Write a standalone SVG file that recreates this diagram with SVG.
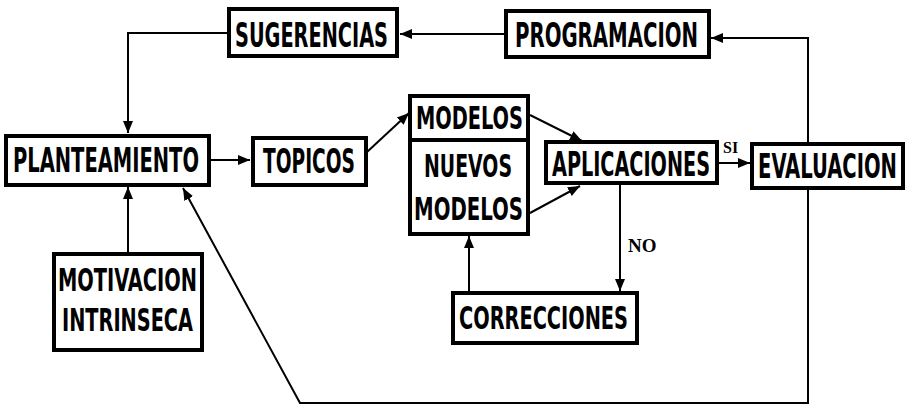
<svg xmlns="http://www.w3.org/2000/svg" width="909" height="408" viewBox="0 0 909 408">
<style>
.box{fill:#fff;stroke:#000;stroke-width:4;stroke-linejoin:miter}
.t{font-family:"Liberation Sans Narrow","DejaVu Sans Condensed","Liberation Sans",sans-serif;font-weight:bold;font-size:22px;fill:#000}
.s{font-size:21px}
.c{fill:none;stroke:#000;stroke-width:2}
.lbl{font-family:"Liberation Serif",serif;font-weight:bold;fill:#000}
</style>
<defs>
<marker id="ah" markerUnits="userSpaceOnUse" markerWidth="14" markerHeight="12" refX="12" refY="6" orient="auto">
<path d="M0,1 L12,6 L0,11 Z" fill="#000"/>
</marker>
</defs>
<rect width="909" height="408" fill="#fff"/>
<g id="connectors">
<path class="c" d="M505,34 H400" marker-end="url(#ah)"/>
<path class="c" d="M228,33 H128 V133" marker-end="url(#ah)"/>
<path class="c" d="M209,160 H250" marker-end="url(#ah)"/>
<path class="c" d="M367,152 L409,113" marker-end="url(#ah)"/>
<path class="c" d="M530,115 L582,141" marker-end="url(#ah)"/>
<path class="c" d="M530,213 L580,186" marker-end="url(#ah)"/>
<path class="c" d="M717,163 H750" marker-end="url(#ah)"/>
<path class="c" d="M808,143 V38 H711" marker-end="url(#ah)"/>
<path class="c" d="M620,185 V291" marker-end="url(#ah)"/>
<path class="c" d="M469,291 V236" marker-end="url(#ah)"/>
<path class="c" d="M128,252 V187" marker-end="url(#ah)"/>
<path class="c" d="M808,189 V403 H300 L183,188" marker-end="url(#ah)"/>
<text class="lbl" x="723" y="153" font-size="16">SI</text>
<text class="lbl" x="628" y="252" font-size="19">NO</text>
</g>
<g id="sugerencias">
<rect class="box" x="229" y="9" width="168" height="47"/>
<text class="t" transform="translate(235,47) scale(1,1.5)" textLength="153" lengthAdjust="spacingAndGlyphs">SUGERENCIAS</text>
</g>
<g id="programacion">
<rect class="box" x="506" y="11" width="203" height="46"/>
<text class="t" transform="translate(515,47) scale(1,1.5)" textLength="183" lengthAdjust="spacingAndGlyphs">PROGRAMACION</text>
</g>
<g id="planteamiento">
<rect class="box" x="6" y="136" width="203" height="49"/>
<text class="t" transform="translate(13,172) scale(1,1.5)" textLength="186" lengthAdjust="spacingAndGlyphs">PLANTEAMIENTO</text>
</g>
<g id="topicos">
<rect class="box" x="253" y="138" width="113" height="47"/>
<text class="t" transform="translate(263,173) scale(1,1.5)" textLength="92" lengthAdjust="spacingAndGlyphs">TOPICOS</text>
</g>
<g id="modelos">
<rect class="box" x="410" y="96" width="118" height="138"/>
<line x1="410" y1="140" x2="528" y2="140" stroke="#000" stroke-width="4"/>
<text class="t s" transform="translate(416,129) scale(1,1.5)" textLength="107" lengthAdjust="spacingAndGlyphs">MODELOS</text>
<text class="t s" transform="translate(424,177) scale(1,1.5)" textLength="88" lengthAdjust="spacingAndGlyphs">NUEVOS</text>
<text class="t s" transform="translate(414,220) scale(1,1.5)" textLength="109" lengthAdjust="spacingAndGlyphs">MODELOS</text>
</g>
<g id="aplicaciones">
<rect class="box" x="546" y="142" width="171" height="41"/>
<text class="t" transform="translate(552,176) scale(1,1.5)" textLength="158" lengthAdjust="spacingAndGlyphs">APLICACIONES</text>
</g>
<g id="evaluacion">
<rect class="box" x="752" y="144" width="151" height="44"/>
<text class="t" transform="translate(758,178) scale(1,1.5)" textLength="139" lengthAdjust="spacingAndGlyphs">EVALUACION</text>
</g>
<g id="correcciones">
<rect class="box" x="453" y="293" width="184" height="50"/>
<text class="t s" transform="translate(459,329) scale(1,1.5)" textLength="169" lengthAdjust="spacingAndGlyphs">CORRECCIONES</text>
</g>
<g id="motivacion">
<rect class="box" x="54" y="254" width="148" height="96"/>
<text class="t s" transform="translate(58,291) scale(1,1.5)" textLength="139" lengthAdjust="spacingAndGlyphs">MOTIVACION</text>
<text class="t s" transform="translate(62,331) scale(1,1.5)" textLength="131" lengthAdjust="spacingAndGlyphs">INTRINSECA</text>
</g>
</svg>
